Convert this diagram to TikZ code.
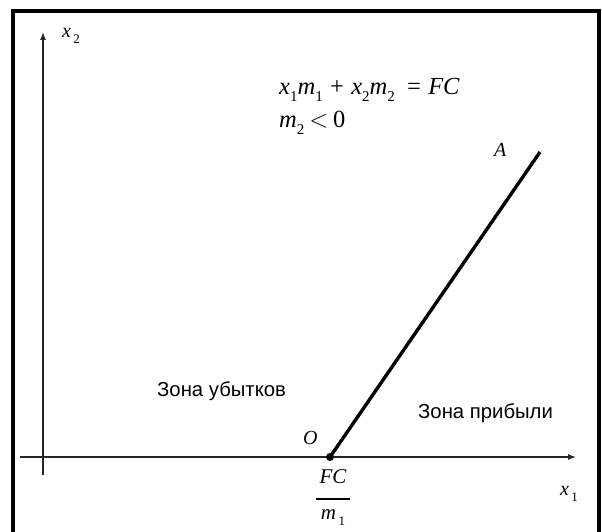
\documentclass[tikz,border=0pt]{standalone}
\usepackage{fontspec}
\setmainfont{Liberation Serif}
\newfontfamily\arl{Liberation Sans}
\usetikzlibrary{arrows.meta}
\newcommand\lbs[1]{\raisebox{-0.25em}{\fontsize{15}{15}\selectfont\upshape #1}}
\newcommand\lbsm[1]{\hspace{0.12em}\raisebox{-0.3em}{\fontsize{13}{13}\selectfont\upshape #1}}
\newcommand\opsp{\hspace{0.3em}}
\tikzset{
  axis/.style={line width=1.4pt, draw=black!85, -{Latex[length=8pt,width=6pt]}},
  frame/.style={line width=4.2pt, line cap=rect},
  mth/.style={inner sep=0pt, anchor=base west, font=\fontsize{24.5}{27}\selectfont\itshape},
  sml/.style={inner sep=0pt, anchor=base west, font=\fontsize{20}{22}\selectfont\itshape},
  zone/.style={inner sep=0pt, anchor=base west, font=\arl\fontsize{20.3}{23}\selectfont},
}
\begin{document}
\begin{tikzpicture}[x=1pt,y=-1pt]
\useasboundingbox (0,0) rectangle (602,532);
\draw[frame] (13,540) -- (13,11) -- (599,11) -- (599,540);
% axes
\coordinate (ybot) at (43,475);
\coordinate (ytop) at (43,32);
\coordinate (xl) at (20,457);
\coordinate (xr) at (576,457);
\draw[axis] (ybot) -- (ytop);
\draw[axis] (xl) -- (xr);
% line OA
\coordinate (O) at (330,457);
\coordinate (A) at (540,152);
\draw[line width=3.4pt] (O) -- (A);
\fill (O) circle (4pt);
% labels
\node[sml] (lx2) at (62,38) {x\lbsm{2}};
\node[sml] (lx1) at (560,495) {x\lbsm{1}};
\node[sml] (lA) at (494,157) {A};
\node[sml] (lO) at (303,444) {O};
\node[mth] (f1) at (279,95) {x\lbs{1}m\lbs{1}\opsp\upshape+\opsp\itshape x\lbs{2}m\lbs{2}\hspace{0.5em}\upshape=\opsp\itshape FC};
\node[mth] (f2) at (279,128) {m\lbs{2}\hspace{0.2em}\upshape$<$\hspace{0.2em}0};
\node[inner sep=0pt, font=\fontsize{21}{23}\selectfont\itshape] (frac) at (333,497)
  {\begin{tabular}{@{}c@{}}FC\\[-7pt]\rule{34pt}{1.3pt}\\[-3pt]m\lbsm{1}\end{tabular}};
\node[zone] (z1) at (157,396) {Зона убытков};
\node[zone] (z2) at (418,418) {Зона прибыли};
\end{tikzpicture}
\end{document}
